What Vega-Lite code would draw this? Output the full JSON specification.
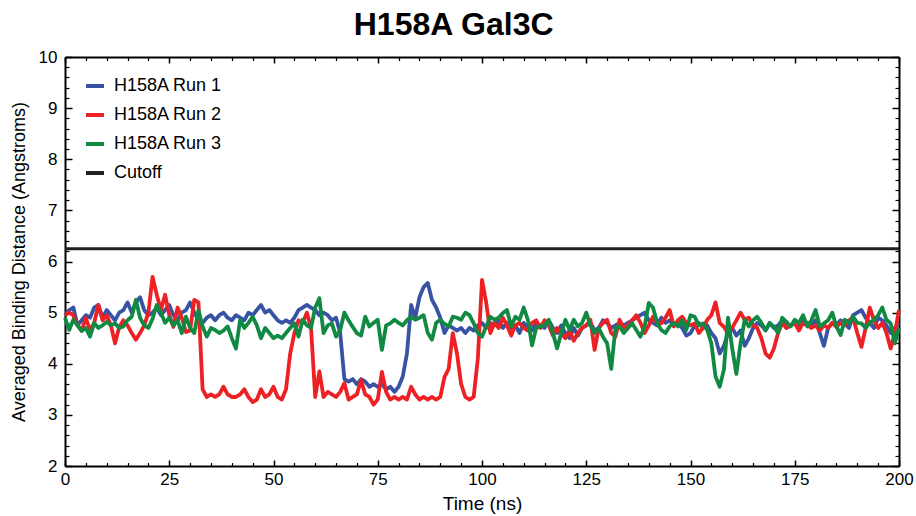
{
  "$schema": "https://vega.github.io/schema/vega-lite/v6.json",
  "width": 834,
  "height": 409,
  "autosize": {"type": "none"},
  "padding": {"left": 65, "top": 57, "right": 17, "bottom": 50},
  "title": {"text": "H158A Gal3C", "fontSize": 32, "fontWeight": "bold", "font": "Liberation Sans", "color": "black", "anchor": "middle", "frame": "bounds", "offset": 6, "dx": -8},
  "config": {
    "view": {"stroke": null},
    "font": "Liberation Sans",
    "axis": {"grid": false, "domainColor": "black", "tickColor": "black", "labelColor": "black", "titleColor": "black", "labelFont": "Liberation Sans", "titleFont": "Liberation Sans", "titleFontWeight": "normal", "labelFlush": false, "labelOverlap": false}
  },
  "datasets": {
    "runs": [
      {"t":0,"r1":4.95,"r2":4.95,"r3":4.9},{"t":1,"r1":5.05,"r2":5.0,"r3":4.66},{"t":2,"r1":5.1,"r2":4.95,"r3":4.86},{"t":3,"r1":4.75,"r2":4.75,"r3":4.75},{"t":4,"r1":4.85,"r2":4.65,"r3":4.64},{"t":5,"r1":4.95,"r2":4.9,"r3":4.7},{"t":6,"r1":4.9,"r2":4.65,"r3":4.53},{"t":7,"r1":5.1,"r2":4.8,"r3":4.8},{"t":8,"r1":5.15,"r2":5.15,"r3":4.7},{"t":9,"r1":4.9,"r2":4.85,"r3":4.75},
      {"t":10,"r1":5.05,"r2":4.95,"r3":4.82},{"t":11,"r1":4.95,"r2":4.75,"r3":4.75},{"t":12,"r1":4.85,"r2":4.4,"r3":4.79},{"t":13,"r1":5.0,"r2":4.72,"r3":4.7},{"t":14,"r1":5.05,"r2":4.85,"r3":4.73},{"t":15,"r1":5.2,"r2":4.75,"r3":4.85},{"t":16,"r1":5.0,"r2":4.6,"r3":4.92},{"t":17,"r1":5.2,"r2":4.47,"r3":5.25},{"t":18,"r1":5.3,"r2":4.6,"r3":4.9},{"t":19,"r1":5.05,"r2":4.75,"r3":4.75},
      {"t":20,"r1":4.95,"r2":5.0,"r3":4.7},{"t":21,"r1":5.0,"r2":5.7,"r3":4.88},{"t":22,"r1":5.1,"r2":5.35,"r3":5.15},{"t":23,"r1":4.95,"r2":5.05,"r3":5.0},{"t":24,"r1":5.05,"r2":5.35,"r3":4.8},{"t":25,"r1":5.15,"r2":4.95,"r3":4.9},{"t":26,"r1":4.95,"r2":4.72,"r3":4.75},{"t":27,"r1":4.85,"r2":5.1,"r3":4.85},{"t":28,"r1":5.0,"r2":4.9,"r3":4.6},{"t":29,"r1":5.05,"r2":4.62,"r3":4.92},
      {"t":30,"r1":5.2,"r2":4.65,"r3":4.7},{"t":31,"r1":5.0,"r2":5.25,"r3":4.6},{"t":32,"r1":4.85,"r2":5.2,"r3":5.05},{"t":33,"r1":4.8,"r2":3.5,"r3":4.73},{"t":34,"r1":4.9,"r2":3.35,"r3":4.53},{"t":35,"r1":4.95,"r2":3.4,"r3":4.7},{"t":36,"r1":4.85,"r2":3.35,"r3":4.66},{"t":37,"r1":4.95,"r2":3.4,"r3":4.6},{"t":38,"r1":5.0,"r2":3.55,"r3":4.65},{"t":39,"r1":4.9,"r2":3.4,"r3":4.73},
      {"t":40,"r1":4.85,"r2":3.35,"r3":4.5},{"t":41,"r1":4.95,"r2":3.35,"r3":4.3},{"t":42,"r1":4.9,"r2":3.4,"r3":4.86},{"t":43,"r1":4.85,"r2":3.5,"r3":4.7},{"t":44,"r1":5.0,"r2":3.35,"r3":4.8},{"t":45,"r1":4.95,"r2":3.25,"r3":4.92},{"t":46,"r1":5.05,"r2":3.3,"r3":4.75},{"t":47,"r1":5.15,"r2":3.5,"r3":4.5},{"t":48,"r1":5.0,"r2":3.35,"r3":4.7},{"t":49,"r1":5.05,"r2":3.4,"r3":4.6},
      {"t":50,"r1":4.95,"r2":3.55,"r3":4.5},{"t":51,"r1":4.85,"r2":3.35,"r3":4.55},{"t":52,"r1":4.8,"r2":3.3,"r3":4.5},{"t":53,"r1":4.85,"r2":3.5,"r3":4.6},{"t":54,"r1":4.8,"r2":4.2,"r3":4.7},{"t":55,"r1":4.9,"r2":4.6,"r3":4.79},{"t":56,"r1":5.05,"r2":4.85,"r3":4.53},{"t":57,"r1":5.1,"r2":4.8,"r3":4.86},{"t":58,"r1":5.15,"r2":5.0,"r3":4.75},{"t":59,"r1":5.1,"r2":4.7,"r3":4.7},
      {"t":60,"r1":5.05,"r2":3.35,"r3":5.1},{"t":61,"r1":4.95,"r2":3.85,"r3":5.28},{"t":62,"r1":5.0,"r2":3.35,"r3":4.6},{"t":63,"r1":4.95,"r2":3.45,"r3":4.75},{"t":64,"r1":4.85,"r2":3.4,"r3":4.79},{"t":65,"r1":4.9,"r2":3.35,"r3":4.53},{"t":66,"r1":4.6,"r2":3.45,"r3":4.66},{"t":67,"r1":3.7,"r2":3.62,"r3":5.0},{"t":68,"r1":3.65,"r2":3.3,"r3":4.85},{"t":69,"r1":3.7,"r2":3.35,"r3":4.72},
      {"t":70,"r1":3.6,"r2":3.4,"r3":4.6},{"t":71,"r1":3.7,"r2":3.68,"r3":4.55},{"t":72,"r1":3.65,"r2":3.4,"r3":4.92},{"t":73,"r1":3.55,"r2":3.35,"r3":4.73},{"t":74,"r1":3.6,"r2":3.2,"r3":4.8},{"t":75,"r1":3.55,"r2":3.3,"r3":4.86},{"t":76,"r1":3.6,"r2":3.84,"r3":4.27},{"t":77,"r1":3.5,"r2":3.45,"r3":4.75},{"t":78,"r1":3.55,"r2":3.3,"r3":4.79},{"t":79,"r1":3.45,"r2":3.35,"r3":4.86},
      {"t":80,"r1":3.55,"r2":3.3,"r3":4.8},{"t":81,"r1":3.75,"r2":3.35,"r3":4.75},{"t":82,"r1":4.2,"r2":3.3,"r3":4.85},{"t":83,"r1":5.15,"r2":3.55,"r3":4.92},{"t":84,"r1":4.9,"r2":3.4,"r3":4.86},{"t":85,"r1":5.3,"r2":3.3,"r3":4.9},{"t":86,"r1":5.5,"r2":3.35,"r3":4.95},{"t":87,"r1":5.58,"r2":3.3,"r3":4.6},{"t":88,"r1":5.25,"r2":3.35,"r3":4.47},{"t":89,"r1":5.1,"r2":3.3,"r3":4.8},
      {"t":90,"r1":4.9,"r2":3.35,"r3":4.86},{"t":91,"r1":4.6,"r2":3.74,"r3":4.78},{"t":92,"r1":4.75,"r2":3.9,"r3":4.73},{"t":93,"r1":4.7,"r2":4.6,"r3":4.92},{"t":94,"r1":4.65,"r2":4.2,"r3":4.9},{"t":95,"r1":4.7,"r2":3.6,"r3":4.86},{"t":96,"r1":4.6,"r2":3.35,"r3":5.0},{"t":97,"r1":4.7,"r2":3.3,"r3":4.95},{"t":98,"r1":4.65,"r2":3.35,"r3":4.79},{"t":99,"r1":4.75,"r2":4.1,"r3":4.6},
      {"t":100,"r1":4.8,"r2":5.64,"r3":4.53},{"t":101,"r1":4.7,"r2":5.2,"r3":4.73},{"t":102,"r1":4.8,"r2":4.6,"r3":4.92},{"t":103,"r1":4.75,"r2":4.8,"r3":4.86},{"t":104,"r1":4.85,"r2":4.7,"r3":4.9},{"t":105,"r1":4.7,"r2":4.9,"r3":4.99},{"t":106,"r1":4.8,"r2":4.75,"r3":5.05},{"t":107,"r1":4.7,"r2":4.55,"r3":4.73},{"t":108,"r1":4.75,"r2":4.75,"r3":4.92},{"t":109,"r1":4.6,"r2":4.8,"r3":4.86},
      {"t":110,"r1":4.8,"r2":4.7,"r3":5.1},{"t":111,"r1":4.7,"r2":4.65,"r3":4.86},{"t":112,"r1":4.65,"r2":4.8,"r3":4.36},{"t":113,"r1":4.8,"r2":4.85,"r3":4.7},{"t":114,"r1":4.75,"r2":4.7,"r3":4.73},{"t":115,"r1":4.7,"r2":4.85,"r3":4.75},{"t":116,"r1":4.85,"r2":4.75,"r3":4.86},{"t":117,"r1":4.7,"r2":4.55,"r3":4.6},{"t":118,"r1":4.6,"r2":4.7,"r3":4.3},{"t":119,"r1":4.75,"r2":4.6,"r3":4.6},
      {"t":120,"r1":4.6,"r2":4.5,"r3":4.86},{"t":121,"r1":4.5,"r2":4.65,"r3":4.66},{"t":122,"r1":4.7,"r2":4.45,"r3":4.86},{"t":123,"r1":4.55,"r2":4.6,"r3":4.73},{"t":124,"r1":4.7,"r2":4.7,"r3":4.8},{"t":125,"r1":4.75,"r2":4.75,"r3":5.0},{"t":126,"r1":4.8,"r2":4.86,"r3":4.75},{"t":127,"r1":4.65,"r2":4.27,"r3":4.6},{"t":128,"r1":4.7,"r2":4.7,"r3":4.7},{"t":129,"r1":4.85,"r2":4.8,"r3":4.53},
      {"t":130,"r1":4.8,"r2":4.86,"r3":4.4},{"t":131,"r1":4.7,"r2":4.6,"r3":3.9},{"t":132,"r1":4.75,"r2":4.53,"r3":4.7},{"t":133,"r1":4.8,"r2":4.86,"r3":4.73},{"t":134,"r1":4.75,"r2":4.7,"r3":4.6},{"t":135,"r1":4.8,"r2":4.75,"r3":4.7},{"t":136,"r1":4.85,"r2":4.85,"r3":4.79},{"t":137,"r1":4.9,"r2":4.95,"r3":4.66},{"t":138,"r1":4.95,"r2":4.8,"r3":4.53},{"t":139,"r1":5.0,"r2":4.6,"r3":4.73},
      {"t":140,"r1":4.85,"r2":4.75,"r3":5.19},{"t":141,"r1":4.8,"r2":4.92,"r3":5.1},{"t":142,"r1":4.75,"r2":4.8,"r3":4.8},{"t":143,"r1":4.9,"r2":4.79,"r3":4.66},{"t":144,"r1":4.8,"r2":4.9,"r3":4.6},{"t":145,"r1":4.85,"r2":5.05,"r3":4.73},{"t":146,"r1":4.75,"r2":4.73,"r3":4.8},{"t":147,"r1":4.8,"r2":4.85,"r3":4.73},{"t":148,"r1":4.7,"r2":4.92,"r3":4.85},{"t":149,"r1":4.55,"r2":4.8,"r3":4.66},
      {"t":150,"r1":4.6,"r2":4.75,"r3":4.95},{"t":151,"r1":4.75,"r2":4.79,"r3":4.92},{"t":152,"r1":4.8,"r2":4.6,"r3":4.75},{"t":153,"r1":4.7,"r2":4.7,"r3":4.79},{"t":154,"r1":4.75,"r2":4.86,"r3":4.66},{"t":155,"r1":4.6,"r2":4.95,"r3":4.4},{"t":156,"r1":4.5,"r2":5.2,"r3":3.75},{"t":157,"r1":4.2,"r2":4.8,"r3":3.55},{"t":158,"r1":4.35,"r2":4.72,"r3":3.88},{"t":159,"r1":4.6,"r2":4.6,"r3":4.9},
      {"t":160,"r1":4.7,"r2":4.7,"r3":4.3},{"t":161,"r1":4.55,"r2":4.85,"r3":3.8},{"t":162,"r1":4.65,"r2":5.0,"r3":4.4},{"t":163,"r1":4.35,"r2":4.86,"r3":4.86},{"t":164,"r1":4.5,"r2":4.9,"r3":4.73},{"t":165,"r1":4.7,"r2":4.75,"r3":4.85},{"t":166,"r1":4.8,"r2":4.7,"r3":4.92},{"t":167,"r1":4.75,"r2":4.5,"r3":4.8},{"t":168,"r1":4.65,"r2":4.2,"r3":4.66},{"t":169,"r1":4.8,"r2":4.12,"r3":4.79},
      {"t":170,"r1":4.7,"r2":4.3,"r3":4.73},{"t":171,"r1":4.75,"r2":4.6,"r3":4.6},{"t":172,"r1":4.85,"r2":4.8,"r3":4.9},{"t":173,"r1":4.7,"r2":4.7,"r3":4.82},{"t":174,"r1":4.75,"r2":4.75,"r3":4.73},{"t":175,"r1":4.8,"r2":4.8,"r3":4.86},{"t":176,"r1":4.7,"r2":4.65,"r3":4.8},{"t":177,"r1":4.85,"r2":4.8,"r3":4.95},{"t":178,"r1":4.8,"r2":4.75,"r3":4.73},{"t":179,"r1":4.75,"r2":4.7,"r3":4.85},
      {"t":180,"r1":4.85,"r2":4.75,"r3":5.05},{"t":181,"r1":4.6,"r2":4.65,"r3":4.73},{"t":182,"r1":4.35,"r2":4.75,"r3":4.79},{"t":183,"r1":4.7,"r2":4.7,"r3":4.85},{"t":184,"r1":4.8,"r2":4.8,"r3":5.0},{"t":185,"r1":4.75,"r2":4.72,"r3":4.73},{"t":186,"r1":4.85,"r2":4.8,"r3":4.56},{"t":187,"r1":4.8,"r2":4.75,"r3":4.86},{"t":188,"r1":4.7,"r2":4.85,"r3":4.8},{"t":189,"r1":4.95,"r2":4.9,"r3":4.92},
      {"t":190,"r1":5.0,"r2":4.6,"r3":4.8},{"t":191,"r1":5.05,"r2":4.33,"r3":4.79},{"t":192,"r1":4.9,"r2":4.7,"r3":4.7},{"t":193,"r1":4.8,"r2":5.1,"r3":4.8},{"t":194,"r1":4.7,"r2":4.85,"r3":4.86},{"t":195,"r1":4.9,"r2":4.7,"r3":4.95},{"t":196,"r1":4.85,"r2":4.8,"r3":5.1},{"t":197,"r1":4.75,"r2":4.6,"r3":4.86},{"t":198,"r1":4.6,"r2":4.3,"r3":4.79},{"t":199,"r1":4.7,"r2":4.6,"r3":4.4},
      {"t":200,"r1":4.8,"r2":5.05,"r3":4.7}
    ],
    "cut": [{"t":0,"d":6.25},{"t":200,"d":6.25}]
  },
  "resolve": {"axis": {"x": "independent", "y": "independent"}},
  "layer": [
    {
      "data": {"name": "runs"},
      "mark": {"type": "line", "strokeWidth": 3.8, "strokeJoin": "round"},
      "encoding": {
        "x": {"field": "t", "type": "quantitative", "scale": {"domain": [0, 200], "nice": false},
          "axis": {"orient": "bottom", "values": [0,25,50,75,100,125,150,175,200], "tickSize": -6, "tickWidth": 1.5, "labelFontSize": 17, "labelPadding": 11, "domainWidth": 2, "title": "Time (ns)", "titleFontSize": 19, "titlePadding": 7}},
        "y": {"field": "r1", "type": "quantitative", "scale": {"domain": [2, 10], "nice": false, "zero": false},
          "axis": {"orient": "left", "values": [2,3,4,5,6,7,8,9,10], "tickSize": -7, "tickWidth": 1.5, "labelFontSize": 17, "labelPadding": 15, "domainWidth": 2, "title": "Averaged Binding Distance (Angstroms)", "titleFontSize": 18, "titlePadding": 10}},
        "color": {"datum": "H158A Run 1", "type": "nominal",
          "scale": {"domain": ["H158A Run 1", "H158A Run 2", "H158A Run 3", "Cutoff"], "range": ["#3953a4", "#ed2024", "#108a43", "#231f20"]},
          "legend": {"orient": "none", "legendX": 19, "legendY": 18, "title": null, "symbolType": "stroke", "symbolSize": 324, "symbolStrokeWidth": 4, "labelFontSize": 18, "labelColor": "black", "labelOffset": 8, "rowPadding": 9, "padding": 0}}
      }
    },
    {
      "data": {"name": "runs"},
      "mark": {"type": "line", "strokeWidth": 3.8, "strokeJoin": "round"},
      "encoding": {
        "x": {"field": "t", "type": "quantitative", "axis": {"orient": "top", "values": [0,25,50,75,100,125,150,175,200], "tickSize": -6, "tickWidth": 1.5, "labels": false, "domainWidth": 2, "title": null}},
        "y": {"field": "r2", "type": "quantitative", "axis": {"orient": "right", "values": [2,3,4,5,6,7,8,9,10], "tickSize": -7, "tickWidth": 1.5, "labels": false, "domainWidth": 2, "title": null}},
        "color": {"datum": "H158A Run 2", "type": "nominal"}
      }
    },
    {
      "data": {"name": "runs"},
      "mark": {"type": "line", "strokeWidth": 3.8, "strokeJoin": "round"},
      "encoding": {
        "x": {"field": "t", "type": "quantitative", "axis": {"orient": "bottom", "values": [5,10,15,20,30,35,40,45,55,60,65,70,80,85,90,95,105,110,115,120,130,135,140,145,155,160,165,170,180,185,190,195], "tickSize": -3.5, "tickWidth": 1.2, "labels": false, "domain": false, "title": null}},
        "y": {"field": "r3", "type": "quantitative", "axis": {"orient": "left", "values": [2.2,2.4,2.6,2.8,3.2,3.4,3.6,3.8,4.2,4.4,4.6,4.8,5.2,5.4,5.6,5.8,6.2,6.4,6.6,6.8,7.2,7.4,7.6,7.8,8.2,8.4,8.6,8.8,9.2,9.4,9.6,9.8], "tickSize": -4, "tickWidth": 1.2, "labels": false, "domain": false, "title": null}},
        "color": {"datum": "H158A Run 3", "type": "nominal"}
      }
    },
    {
      "data": {"name": "cut"},
      "mark": {"type": "line", "strokeWidth": 3},
      "encoding": {
        "x": {"field": "t", "type": "quantitative", "axis": {"orient": "top", "values": [5,10,15,20,30,35,40,45,55,60,65,70,80,85,90,95,105,110,115,120,130,135,140,145,155,160,165,170,180,185,190,195], "tickSize": -3.5, "tickWidth": 1.2, "labels": false, "domain": false, "title": null}},
        "y": {"field": "d", "type": "quantitative", "axis": {"orient": "right", "values": [2.2,2.4,2.6,2.8,3.2,3.4,3.6,3.8,4.2,4.4,4.6,4.8,5.2,5.4,5.6,5.8,6.2,6.4,6.6,6.8,7.2,7.4,7.6,7.8,8.2,8.4,8.6,8.8,9.2,9.4,9.6,9.8], "tickSize": -4, "tickWidth": 1.2, "labels": false, "domain": false, "title": null}},
        "color": {"datum": "Cutoff", "type": "nominal"}
      }
    }
  ]
}
